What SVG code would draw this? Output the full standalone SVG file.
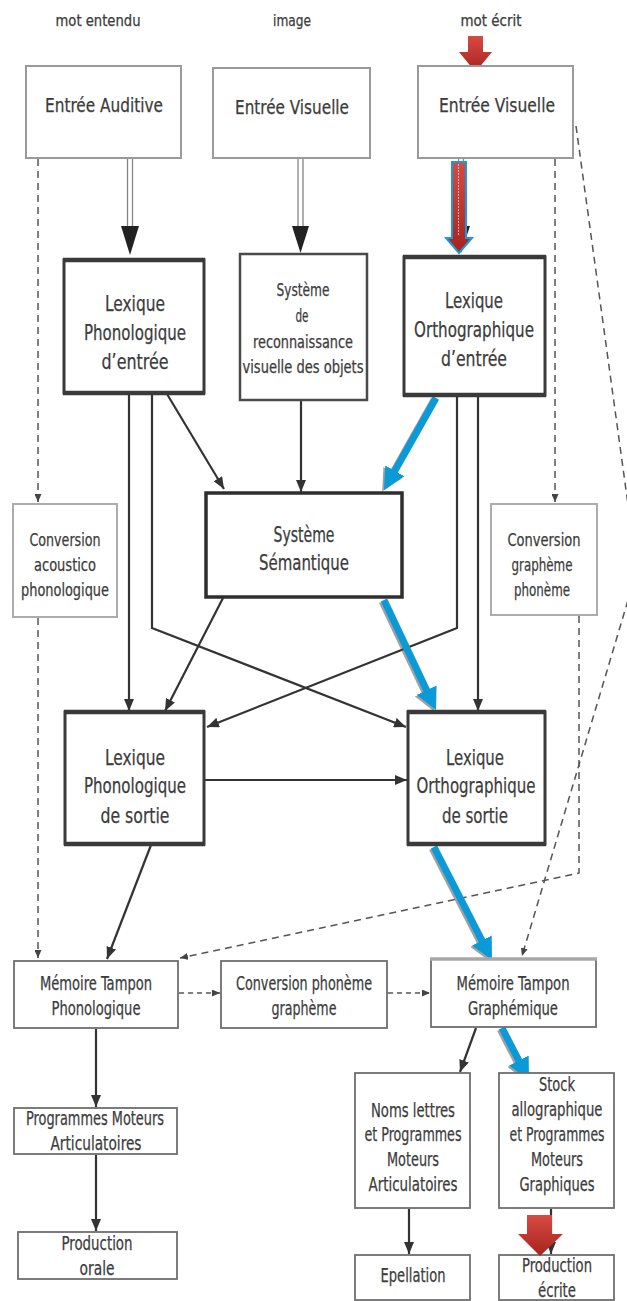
<svg xmlns="http://www.w3.org/2000/svg" width="627" height="1301" viewBox="0 0 627 1301">
  <style>
    text { font-family: "DejaVu Sans Condensed", "DejaVu Sans", "Liberation Sans", sans-serif; font-stretch: condensed; fill: #3c3c3c; stroke: #3c3c3c; stroke-width: 0.25; text-anchor: middle; dominant-baseline: central; }
    .lbl { font-size: 15px; }
    .t18 { font-size: 20px; }
    .t20 { font-size: 22px; }
    .t19 { font-size: 21px; }
    .t16 { font-size: 17.5px; }
    .t15 { font-size: 17px; }
    .t17 { font-size: 19px; }
    rect { fill: #ffffff; }
    .bx-light { stroke: #9a9a9a; stroke-width: 2; }
    .bx-thick { stroke: #3a3a3a; stroke-width: 3; }
    .edge { stroke: #3a3a3a; stroke-width: 4.5; }
    .bx-sem { stroke: #2e2e2e; stroke-width: 3.5; }
    .bx-mid { stroke: #4a4a4a; stroke-width: 2.5; }
    .bx-conv { stroke: #acacac; stroke-width: 2; }
    .bx-low { stroke: #6e6e6e; stroke-width: 1.8; }
    .solid { fill: none; stroke: #333; stroke-width: 2.2; marker-end: url(#ah); }
    .dash { fill: none; stroke: #555; stroke-width: 1.5; stroke-dasharray: 7 5; marker-end: url(#ahs); }
    .dash2 { fill: none; stroke: #555; stroke-width: 1.5; stroke-dasharray: 5 4; marker-end: url(#ahs); }
    .dbl { stroke: #858585; stroke-width: 1.3; }
    .dblhead { fill: #222; }
    .blue { fill: none; stroke: #0a9ad8; stroke-width: 7; marker-end: url(#bh); }
    .blueshadow { fill: none; stroke: #555; stroke-width: 7; opacity: 0.55; marker-end: url(#bhs); }
    .red { fill: url(#redg); }
  </style>
  <defs>
    <marker id="ah" markerUnits="userSpaceOnUse" markerWidth="12" markerHeight="10" refX="12" refY="5" orient="auto">
      <path d="M0,0 L12,5 L0,10 z" fill="#333"/>
    </marker>
    <marker id="ahs" markerUnits="userSpaceOnUse" markerWidth="8" markerHeight="7" refX="8" refY="3.5" orient="auto">
      <path d="M0,0 L8,3.5 L0,7 z" fill="#444"/>
    </marker>
    <marker id="bh" markerUnits="userSpaceOnUse" markerWidth="22" markerHeight="22" refX="10" refY="11" orient="auto">
      <path d="M0,0 L22,11 L0,22 z" fill="#0a9ad8"/>
    </marker>
    <marker id="bhs" markerUnits="userSpaceOnUse" markerWidth="22" markerHeight="22" refX="10" refY="11" orient="auto">
      <path d="M0,0 L22,11 L0,22 z" fill="#555"/>
    </marker>
    <linearGradient id="redg" x1="0" y1="0" x2="0" y2="1">
      <stop offset="0" stop-color="#d84a42"/>
      <stop offset="1" stop-color="#a6231f"/>
    </linearGradient>
  </defs>

  <!-- column headings -->
  <g id="labels">
    <text class="lbl" x="98" y="21" textLength="85" lengthAdjust="spacingAndGlyphs">mot entendu</text>
    <text class="lbl" x="292" y="21" textLength="38" lengthAdjust="spacingAndGlyphs">image</text>
    <text class="lbl" x="491" y="21" textLength="61" lengthAdjust="spacingAndGlyphs">mot écrit</text>
  </g>

  <!-- connectors -->
  <g id="connectors">
    <!-- input double-line arrows -->
    <line class="dbl" x1="127.5" y1="159" x2="127.5" y2="230"/>
    <line class="dbl" x1="132.5" y1="159" x2="132.5" y2="230"/>
    <polygon class="dblhead" points="121,226 139,226 130,255"/>
    <line class="dbl" x1="298" y1="159" x2="298" y2="230"/>
    <line class="dbl" x1="303" y1="159" x2="303" y2="230"/>
    <polygon class="dblhead" points="292,226 309,226 300.5,253"/>
    <line class="dbl" x1="458.5" y1="159" x2="458.5" y2="230"/>
    <line class="dbl" x1="463.5" y1="159" x2="463.5" y2="230"/>
    <polygon class="dblhead" points="452,226 470,226 461,253"/>

    <!-- dashed routes -->
    <line class="dash" x1="38" y1="159" x2="38" y2="502"/>
    <line class="dash" x1="38" y1="618" x2="38" y2="958"/>
    <line class="dash" x1="555" y1="159" x2="555" y2="502"/>
    <polyline class="dash" points="579,616 579,873 180,958"/>
    <polyline class="dash" points="576,126 637,570 522,956"/>
    <line class="dash2" x1="179" y1="993" x2="220" y2="993"/>
    <line class="dash2" x1="388" y1="993" x2="430" y2="993"/>

    <!-- solid routes -->
    <line class="solid" x1="129" y1="394" x2="129" y2="711"/>
    <polyline class="solid" points="152,394 152,628 406,727"/>
    <line class="solid" x1="167" y1="394" x2="224" y2="489"/>
    <line class="solid" x1="301" y1="401" x2="301" y2="492"/>
    <polyline class="solid" points="457,396 457,628 207,727"/>
    <line class="solid" x1="478" y1="396" x2="478" y2="711"/>
    <line class="solid" x1="223" y1="598" x2="165" y2="711"/>
    <line class="solid" x1="205" y1="780" x2="407" y2="780"/>
    <line class="solid" x1="151" y1="845" x2="107" y2="959"/>
    <line class="solid" x1="96" y1="1029" x2="96" y2="1107"/>
    <line class="solid" x1="96" y1="1155" x2="96" y2="1231"/>
    <line class="solid" x1="476" y1="1028" x2="460" y2="1072"/>
    <line class="solid" x1="409" y1="1209" x2="409" y2="1254"/>
    <line class="solid" x1="551" y1="1209" x2="551" y2="1254"/>

    <!-- highlighted route: written word pathway -->
    <g transform="translate(-1.8,1.5)">
      <line class="blueshadow" x1="436" y1="398" x2="389.9" y2="479.6"/>
      <line class="blueshadow" x1="384" y1="600" x2="430.9" y2="699.2"/>
      <line class="blueshadow" x1="434" y1="847" x2="486.5" y2="949.3"/>
      <line class="blueshadow" x1="502" y1="1028" x2="523.5" y2="1069.4"/>
    </g>
    <line class="blue" x1="436" y1="398" x2="389.9" y2="479.6"/>
    <line class="blue" x1="384" y1="600" x2="430.9" y2="699.2"/>
    <line class="blue" x1="434" y1="847" x2="486.5" y2="949.3"/>
    <line class="blue" x1="502" y1="1028" x2="523.5" y2="1069.4"/>

    <!-- red block arrows -->
    <polygon class="red" points="468,36 483,36 483,52 492,52 475.5,72 459,52 468,52"/>
    <polygon class="red" points="452,162 466,162 466,238 472,238 459,253 446,238 452,238" stroke="#1a9ad6" stroke-width="2"/>
    <line x1="458.5" y1="164" x2="458.5" y2="236" stroke="#f4d0d0" stroke-width="0.8" stroke-dasharray="2 1"/>
  </g>

  <g id="entree-auditive">
    <rect class="bx-light" x="26" y="66" width="155" height="92"/>
    <text class="t18" x="104" y="105" textLength="118" lengthAdjust="spacingAndGlyphs">Entrée Auditive</text>
  </g>
  <g id="entree-visuelle-image">
    <rect class="bx-light" x="213" y="68" width="157" height="90"/>
    <text class="t18" x="292" y="107" textLength="114" lengthAdjust="spacingAndGlyphs">Entrée Visuelle</text>
  </g>
  <g id="entree-visuelle-mot">
    <rect class="bx-light" x="418" y="66" width="155" height="92"/>
    <text class="t18" x="497" y="105" textLength="116" lengthAdjust="spacingAndGlyphs">Entrée Visuelle</text>
  </g>

  <g id="lexique-phono-entree">
    <rect class="bx-thick" x="64" y="260" width="140" height="133"/>
    <line class="edge" x1="63" y1="260" x2="205" y2="260"/>
    <line class="edge" x1="63" y1="393" x2="205" y2="393"/>
    <text class="t20" x="135" y="303" textLength="60" lengthAdjust="spacingAndGlyphs">Lexique</text>
    <text class="t20" x="135" y="332" textLength="102" lengthAdjust="spacingAndGlyphs">Phonologique</text>
    <text class="t20" x="135" y="361" textLength="67" lengthAdjust="spacingAndGlyphs">d’entrée</text>
  </g>
  <g id="reconnaissance-objets">
    <rect class="bx-mid" x="240" y="254" width="127" height="146"/>
    <text class="t15" x="303" y="290" textLength="53" lengthAdjust="spacingAndGlyphs">Système</text>
    <text class="t15" x="302" y="316" textLength="13" lengthAdjust="spacingAndGlyphs">de</text>
    <text class="t15" x="303" y="342" textLength="100" lengthAdjust="spacingAndGlyphs">reconnaissance</text>
    <text class="t15" x="303" y="367" textLength="121" lengthAdjust="spacingAndGlyphs">visuelle des objets</text>
  </g>
  <g id="lexique-ortho-entree">
    <rect class="bx-thick" x="404" y="257" width="141" height="138"/>
    <line class="edge" x1="403" y1="257" x2="546" y2="257"/>
    <line class="edge" x1="403" y1="395" x2="546" y2="395"/>
    <text class="t20" x="474" y="300" textLength="58" lengthAdjust="spacingAndGlyphs">Lexique</text>
    <text class="t20" x="474" y="329" textLength="120" lengthAdjust="spacingAndGlyphs">Orthographique</text>
    <text class="t20" x="474" y="358" textLength="66" lengthAdjust="spacingAndGlyphs">d’entrée</text>
  </g>

  <g id="conversion-acoustico">
    <rect class="bx-conv" x="13" y="504" width="104" height="113"/>
    <text class="t16" x="65" y="540" textLength="71" lengthAdjust="spacingAndGlyphs">Conversion</text>
    <text class="t16" x="65" y="565" textLength="62" lengthAdjust="spacingAndGlyphs">acoustico</text>
    <text class="t16" x="65" y="590" textLength="88" lengthAdjust="spacingAndGlyphs">phonologique</text>
  </g>
  <g id="systeme-semantique">
    <rect class="bx-sem" x="206" y="493" width="196" height="104"/>
    <text class="t19" x="304" y="535" textLength="61" lengthAdjust="spacingAndGlyphs">Système</text>
    <text class="t19" x="304" y="563" textLength="90" lengthAdjust="spacingAndGlyphs">Sémantique</text>
  </g>
  <g id="conversion-grapheme">
    <rect class="bx-conv" x="491" y="504" width="106" height="111"/>
    <text class="t16" x="544" y="540" textLength="73" lengthAdjust="spacingAndGlyphs">Conversion</text>
    <text class="t16" x="542" y="565" textLength="61" lengthAdjust="spacingAndGlyphs">graphème</text>
    <text class="t16" x="542" y="590" textLength="56" lengthAdjust="spacingAndGlyphs">phonème</text>
  </g>

  <g id="lexique-phono-sortie">
    <rect class="bx-thick" x="65" y="712" width="139" height="132"/>
    <line class="edge" x1="64" y1="712" x2="205" y2="712"/>
    <line class="edge" x1="64" y1="844" x2="205" y2="844"/>
    <text class="t20" x="135" y="757" textLength="60" lengthAdjust="spacingAndGlyphs">Lexique</text>
    <text class="t20" x="135" y="785" textLength="102" lengthAdjust="spacingAndGlyphs">Phonologique</text>
    <text class="t20" x="135" y="815" textLength="69" lengthAdjust="spacingAndGlyphs">de sortie</text>
  </g>
  <g id="lexique-ortho-sortie">
    <rect class="bx-thick" x="408" y="712" width="137" height="132"/>
    <line class="edge" x1="407" y1="712" x2="546" y2="712"/>
    <line class="edge" x1="407" y1="844" x2="546" y2="844"/>
    <text class="t20" x="475" y="757" textLength="58" lengthAdjust="spacingAndGlyphs">Lexique</text>
    <text class="t20" x="476" y="785" textLength="119" lengthAdjust="spacingAndGlyphs">Orthographique</text>
    <text class="t20" x="475" y="815" textLength="66" lengthAdjust="spacingAndGlyphs">de sortie</text>
  </g>

  <g id="memoire-phono">
    <rect class="bx-low" x="14" y="961" width="164" height="67"/>
    <text class="t17" x="96" y="983" textLength="112" lengthAdjust="spacingAndGlyphs">Mémoire Tampon</text>
    <text class="t17" x="96" y="1008" textLength="89" lengthAdjust="spacingAndGlyphs">Phonologique</text>
  </g>
  <g id="conversion-phoneme">
    <rect class="bx-low" x="221" y="961" width="166" height="67"/>
    <text class="t17" x="304" y="983" textLength="136" lengthAdjust="spacingAndGlyphs">Conversion phonème</text>
    <text class="t17" x="304" y="1008" textLength="65" lengthAdjust="spacingAndGlyphs">graphème</text>
  </g>
  <g id="memoire-graph">
    <rect class="bx-low" x="431" y="959" width="165" height="68" stroke="#9a9a9a"/>
    <line x1="430" y1="959" x2="597" y2="959" stroke="#a8a8a8" stroke-width="3.5"/>
    <text class="t17" x="513" y="983" textLength="113" lengthAdjust="spacingAndGlyphs">Mémoire Tampon</text>
    <text class="t17" x="513" y="1008" textLength="90" lengthAdjust="spacingAndGlyphs">Graphémique</text>
  </g>

  <g id="programmes-articulatoires">
    <rect class="bx-low" x="14" y="1108" width="163" height="46"/>
    <text class="t17" x="95" y="1118" textLength="138" lengthAdjust="spacingAndGlyphs">Programmes Moteurs</text>
    <text class="t17" x="96" y="1143" textLength="91" lengthAdjust="spacingAndGlyphs">Articulatoires</text>
  </g>
  <g id="production-orale">
    <rect class="bx-low" x="18" y="1232" width="159" height="47"/>
    <text class="t17" x="97" y="1243" textLength="71" lengthAdjust="spacingAndGlyphs">Production</text>
    <text class="t17" x="97" y="1268" textLength="35" lengthAdjust="spacingAndGlyphs">orale</text>
  </g>

  <g id="noms-lettres">
    <rect class="bx-low" x="355" y="1073" width="115" height="135"/>
    <text class="t17" x="413" y="1110" textLength="84" lengthAdjust="spacingAndGlyphs">Noms lettres</text>
    <text class="t17" x="413" y="1134" textLength="97" lengthAdjust="spacingAndGlyphs">et Programmes</text>
    <text class="t17" x="413" y="1159" textLength="52" lengthAdjust="spacingAndGlyphs">Moteurs</text>
    <text class="t17" x="413" y="1184" textLength="89" lengthAdjust="spacingAndGlyphs">Articulatoires</text>
  </g>
  <g id="stock-allographique">
    <rect class="bx-low" x="499" y="1073" width="115" height="135"/>
    <text class="t17" x="557" y="1084" textLength="36" lengthAdjust="spacingAndGlyphs">Stock</text>
    <text class="t17" x="557" y="1109" textLength="91" lengthAdjust="spacingAndGlyphs">allographique</text>
    <text class="t17" x="557" y="1134" textLength="95" lengthAdjust="spacingAndGlyphs">et Programmes</text>
    <text class="t17" x="557" y="1159" textLength="52" lengthAdjust="spacingAndGlyphs">Moteurs</text>
    <text class="t17" x="557" y="1184" textLength="75" lengthAdjust="spacingAndGlyphs">Graphiques</text>
  </g>
  <g id="epellation">
    <rect class="bx-low" x="355" y="1255" width="115" height="45"/>
    <text class="t17" x="413" y="1275" textLength="65" lengthAdjust="spacingAndGlyphs">Epellation</text>
  </g>
  <g id="production-ecrite">
    <rect class="bx-low" x="499" y="1255" width="115" height="45"/>
    <text class="t17" x="557" y="1265" textLength="70" lengthAdjust="spacingAndGlyphs">Production</text>
    <text class="t17" x="557" y="1290" textLength="38" lengthAdjust="spacingAndGlyphs">écrite</text>
  </g>

  <!-- bottom red arrow drawn over the target box -->
  <polygon class="red" points="527,1215 552,1215 552,1234 563,1234 540,1256 518,1234 527,1234"/>
</svg>
